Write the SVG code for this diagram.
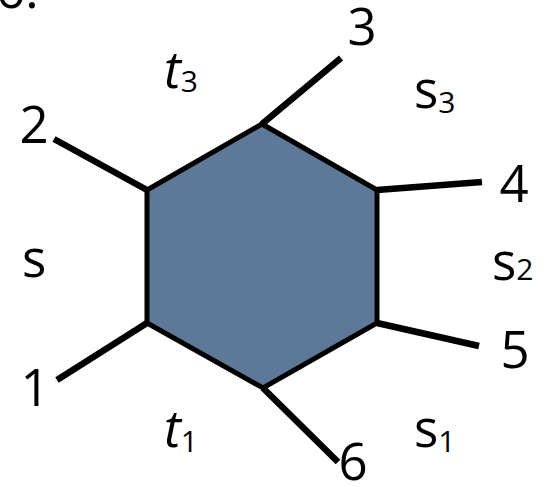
<svg xmlns="http://www.w3.org/2000/svg" width="549" height="487" viewBox="0 0 549 487">
<style>
.lbl{font-family:"Open Sans","DejaVu Sans",sans-serif;font-size:51px;fill:#000;}
.it{font-style:italic;}
.sub{font-size:30px;font-style:normal;}
.edge{stroke:#000;stroke-width:6.5;stroke-linecap:butt;fill:none;}
.hex{fill:#5e7898;stroke:#000;stroke-width:5;stroke-linejoin:miter;}
</style>
<rect width="549" height="487" fill="#fff"/>
<g id="connectors">
<line class="edge" x1="147" y1="323" x2="57" y2="380"/>
<line class="edge" x1="147" y1="190" x2="54" y2="139"/>
<line class="edge" x1="262" y1="124" x2="341" y2="58"/>
<line class="edge" x1="377" y1="190" x2="482" y2="182"/>
<line class="edge" x1="377" y1="323" x2="479" y2="346"/>
<line class="edge" x1="263" y1="388" x2="338" y2="462"/>
</g>
<g id="hexagon">
<polygon class="hex" points="262,124 377,190 377,323 263,388 147,323 147,190"/>
</g>
<g id="label-6dot"><text class="lbl" x="-4" y="8">6.</text></g>
<g id="leg-2"><text class="lbl" x="34" y="143" text-anchor="middle">2</text></g>
<g id="leg-3"><text class="lbl" x="362" y="45" text-anchor="middle">3</text></g>
<g id="leg-4"><text class="lbl" x="514" y="202" text-anchor="middle">4</text></g>
<g id="leg-5"><text class="lbl" x="515" y="368" text-anchor="middle">5</text></g>
<g id="leg-1"><text class="lbl" x="35" y="406" text-anchor="middle">1</text></g>
<g id="leg-6"><text class="lbl" x="353" y="480" text-anchor="middle">6</text></g>
<g id="region-t3"><text class="lbl it" x="164" y="88">t<tspan class="sub" dy="4">3</tspan></text></g>
<g id="region-s3"><text class="lbl" x="414" y="108">s<tspan class="sub" dy="5">3</tspan></text></g>
<g id="region-s"><text class="lbl" x="22" y="277">s</text></g>
<g id="region-s2"><text class="lbl" x="492" y="280">s<tspan class="sub" dy="0">2</tspan></text></g>
<g id="region-t1"><text class="lbl it" x="164" y="447">t<tspan class="sub" dy="5">1</tspan></text></g>
<g id="region-s1"><text class="lbl" x="414" y="447">s<tspan class="sub" dy="5">1</tspan></text></g>
</svg>
